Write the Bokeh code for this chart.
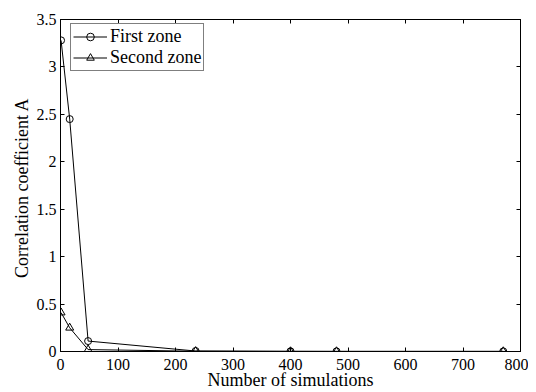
from bokeh.plotting import figure
from bokeh.models import LinearAxis, Range1d, FixedTicker, Legend, LegendItem
from bokeh.embed import file_html
from bokeh.resources import INLINE

sims_first = [1, 16, 48, 235, 400, 480, 770]
corr_first = [3.28, 2.45, 0.11, 0.005, 0.002, 0.001, 0.001]
sims_second = [1, 16, 48, 235, 400, 480, 770]
corr_second = [0.41, 0.25, 0.02, 0.003, 0.001, 0.001, 0.001]
x_ticks = [0, 100, 200, 300, 400, 500, 600, 700, 800]
y_ticks = [0, 0.5, 1, 1.5, 2, 2.5, 3, 3.5]
y_tick_labels = {0: "0", 0.5: "0.5", 1: "1", 1.5: "1.5", 2: "2", 2.5: "2.5", 3: "3", 3.5: "3.5"}

FONT = "'Liberation Serif', 'Times New Roman', serif"

p = figure(width=528, height=392, output_backend="svg", toolbar_location=None,
           x_range=Range1d(0, 800), y_range=Range1d(0, 3.5),
           x_axis_location=None, y_axis_location=None,
           min_border_left=60, min_border_right=8, min_border_top=19, min_border_bottom=38)
p.grid.visible = False
p.outline_line_color = "black"
p.outline_line_width = 1
p.background_fill_color = "white"
p.border_fill_color = "white"

def style_axis(ax):
    ax.major_tick_in = 4
    ax.major_tick_out = 0
    ax.minor_tick_in = 0
    ax.minor_tick_out = 0
    ax.axis_line_color = "black"
    ax.major_tick_line_color = "black"
    ax.major_label_text_font = FONT
    ax.major_label_text_font_size = "16px"
    ax.major_label_text_color = "black"
    ax.axis_label_text_font = FONT
    ax.axis_label_text_font_size = "18px"
    ax.axis_label_text_font_style = "normal"
    ax.axis_label_text_color = "black"

xb = LinearAxis(ticker=FixedTicker(ticks=x_ticks), axis_label="Number of simulations")
style_axis(xb)
xb.major_label_standoff = 7
xb.axis_label_standoff = -3
p.add_layout(xb, "below")

yl = LinearAxis(ticker=FixedTicker(ticks=y_ticks), axis_label="Correlation coefficient  A")
style_axis(yl)
yl.major_label_overrides = {k: v for k, v in y_tick_labels.items()}
yl.major_label_standoff = 4
yl.axis_label_standoff = 2
p.add_layout(yl, "left")

xt = LinearAxis(ticker=FixedTicker(ticks=x_ticks))
style_axis(xt)
xt.major_label_overrides = {t: "" for t in x_ticks}
xt.major_label_standoff = 0
p.add_layout(xt, "above")

yr = LinearAxis(ticker=FixedTicker(ticks=y_ticks))
style_axis(yr)
yr.major_label_overrides = {t: "" for t in y_ticks}
yr.major_label_standoff = 0
p.add_layout(yr, "right")

l1 = p.line(sims_first, corr_first, line_color="black", line_width=1)
m1 = p.scatter(sims_first, corr_first, marker="circle", size=7, line_color="black",
               fill_color=None, line_width=1)
l2 = p.line(sims_second, corr_second, line_color="black", line_width=1)
m2 = p.scatter(sims_second, corr_second, marker="triangle", size=8, line_color="black",
               fill_color=None, line_width=1)

legend = Legend(items=[LegendItem(label="First zone", renderers=[l1, m1]),
                       LegendItem(label="Second zone", renderers=[l2, m2])],
                location=(10, 280))
legend.label_text_font = FONT
legend.label_text_font_size = "18px"
legend.label_text_color = "black"
legend.border_line_color = "black"
legend.border_line_width = 1
legend.background_fill_alpha = 1
legend.margin = 0
legend.padding = 2
legend.spacing = 0
legend.glyph_width = 34
legend.glyph_height = 19
legend.label_height = 19
legend.label_standoff = 3
p.add_layout(legend, "center")

open("out.html", "w").write(file_html(p, INLINE))
